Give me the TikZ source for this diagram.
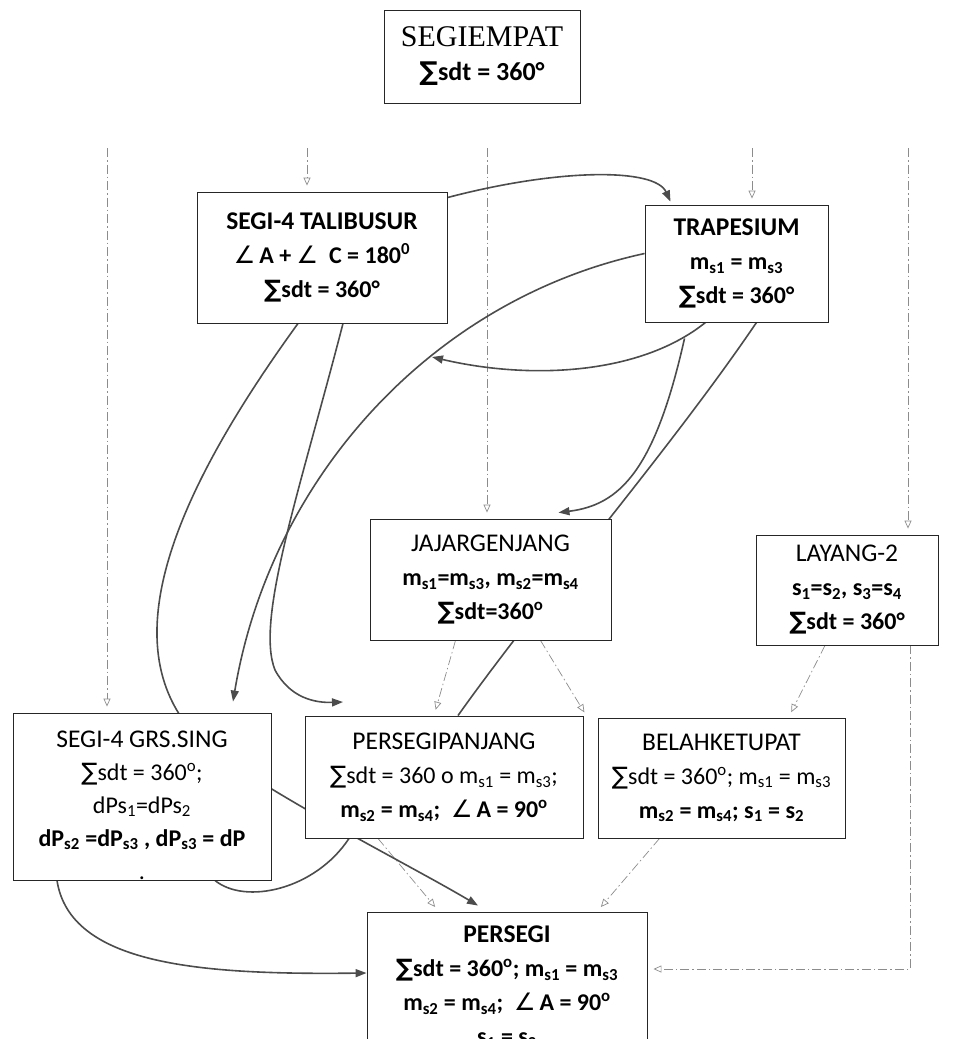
\documentclass[tikz,border=0pt]{standalone}
\usepackage{fontspec}
\setmainfont{Carlito}
\newfontfamily\serifA{Liberation Serif}
\newfontfamily\dv{DejaVu Sans}
\usetikzlibrary{arrows.meta,calc}
\pgfdeclarelayer{bg}
\pgfsetlayers{bg,main}
\newcommand\Sg{{\dv\char"2211}}
\newcommand\Ang{{\dv\mdseries\char"2220}}
\newcommand\sbs[1]{\textsubscript{#1}}
\newcommand\sps[1]{\textsuperscript{#1}}
\newcommand\ttl[1]{{\fontsize{25.5}{34}\selectfont #1}}
\tikzset{
  box/.style={draw=black!85, line width=0.9pt, fill=white, align=center, inner sep=0pt,
    font=\fontsize{24}{34}\selectfont},
  boldbox/.style={box, font=\fontsize{24}{34}\selectfont\bfseries},
  txt/.style={align=center, inner sep=0pt, font=\fontsize{24}{33}\selectfont},
  dsh/.style={draw=black!45, line width=0.7pt, dash pattern=on 9pt off 3pt on 1.5pt off 3pt,
    -{Triangle[open,length=8pt,width=7pt]}, shorten >=6pt},
  sol/.style={draw=black!70, line width=1.6pt, -{Triangle[length=11pt,width=8pt]}},
  solnt/.style={draw=black!70, line width=1.6pt},
}
\begin{document}
\begin{tikzpicture}[x=1pt,y=-1pt]
\useasboundingbox (0,0) rectangle (966,1039);
\clip (0,0) rectangle (966,1039);
\node[box, minimum width=196pt, minimum height=93pt] (seg) at (482,56.5)
  {{\serifA\fontsize{30}{37}\selectfont SEGIEMPAT}\\{\bfseries\fontsize{26}{32}\selectfont\Sg sdt = 360°}};
\node[boldbox, minimum width=250pt, minimum height=131pt] (tal) at (322,257.5)
  {\ttl{SEGI-4 TALIBUSUR}\\\Ang\,A + \Ang\ \ C = 180\sps{0}\\\Sg sdt = 360°};
\node[boldbox, minimum width=183pt, minimum height=117pt] (tra) at (736.5,263.5)
  {\ttl{TRAPESIUM}\\m\sbs{s1} = m\sbs{s3}\\\Sg sdt = 360°};
\node[box, minimum width=241pt, minimum height=121pt] (jaj) at (490.5,579.5)
  {\ttl{JAJARGENJANG}\\{\bfseries m\sbs{s1}=m\sbs{s3}, m\sbs{s2}=m\sbs{s4}}\\{\bfseries\Sg sdt=360\sps{o}}};
\node[box, minimum width=182pt, minimum height=110pt] (lay) at (847,590)
  {\ttl{LAYANG-2}\\{\bfseries s\sbs{1}=s\sbs{2}, s\sbs{3}=s\sbs{4}}\\{\bfseries\Sg sdt = 360°}};
\node[box, minimum width=258pt, minimum height=167pt] (grs) at (142,796.5) {};
\node[txt] (grst) at (142,805)
  {\ttl{SEGI-4 GRS.SING}\\\Sg sdt = 360\sps{o};\\dPs\sbs{1}=dPs\sbs{2}\\{\bfseries dP\sbs{s2} =dP\sbs{s3} , dP\sbs{s3} = dP}\\.};
\node[box, minimum width=278pt, minimum height=122pt] (pp) at (444,777)
  {\ttl{PERSEGIPANJANG}\\\Sg sdt = 360 o m\sbs{s1} = m\sbs{s3};\\{\bfseries m\sbs{s2} = m\sbs{s4};\ \ \Ang\,A = 90\sps{o}}};
\node[box, minimum width=247pt, minimum height=120pt] (bk) at (721.5,778)
  {\ttl{BELAHKETUPAT}\\\Sg sdt = 360\sps{o}; m\sbs{s1} = m\sbs{s3}\\{\bfseries m\sbs{s2} = m\sbs{s4}; s\sbs{1} = s\sbs{2}}};
\node[boldbox, minimum width=280pt, minimum height=150pt] (per) at (507,987)
  {\ttl{PERSEGI}\\\Sg sdt = 360\sps{o}; m\sbs{s1} = m\sbs{s3}\\m\sbs{s2} = m\sbs{s4};\ \ \Ang\,A = 90\sps{o}\\s\sbs{1} = s\sbs{2}};
\coordinate (d1) at (107,148);
\coordinate (d2) at (307,148);
\coordinate (d3) at (487,148);
\coordinate (d4) at (752,148);
\coordinate (d5) at (908,148);
\coordinate (gEnd) at (432,357);
\coordinate (dEnd) at (343,702);
\begin{pgfonlayer}{bg}
\draw[dsh] (d1) -- (d1 |- grs.north);
\draw[dsh] (d2) -- (d2 |- tal.north);
\draw[dsh] (d3) -- (d3 |- jaj.north);
\draw[dsh] (d4) -- (d4 |- tra.north);
\draw[dsh] (d5) -- (d5 |- lay.north);
\draw[dsh] ([xshift=-35pt]jaj.south) -- ([xshift=-10pt]pp.north);
\draw[dsh] ([xshift=50pt]jaj.south) -- ([xshift=-134pt]bk.north);
\draw[dsh] ([xshift=-22pt]lay.south) -- ([xshift=67pt]bk.north);
\draw[dsh] ([xshift=63pt]lay.south) |- ([yshift=18pt]per.east);
\draw[dsh] ([xshift=-66pt]pp.south) -- ([xshift=-68pt]per.north);
\draw[dsh] ([xshift=-62pt]bk.south) -- ([xshift=90pt]per.north);
% solid
\draw[sol] ([yshift=-6pt]tal.north east) .. controls (560,168) and (655,168) .. ([xshift=-66pt,yshift=3pt]tra.north);
\draw[sol] ([yshift=10pt]tra.west) .. controls (430,300) and (270,480) .. ([xshift=91pt,yshift=11pt]grs.north);
\draw[sol] ([xshift=-31pt]tra.south) .. controls (640,375) and (530,380) .. (gEnd);
\draw[sol] ([xshift=-52pt,yshift=-16pt]tra.south) .. controls (655,470) and (620,505) .. ([xshift=68pt,yshift=6pt]jaj.north);
\draw[solnt] ([xshift=20pt]tra.south) .. controls (670,450) and (540,600) .. ([xshift=14pt]pp.north);
\draw[sol] ([xshift=-24pt]tal.south) .. controls (170,500) and (110,650) .. (200,740) .. controls (260,790) and (410,865) .. ([xshift=-29pt,yshift=6pt]per.north);
\draw[sol] ([xshift=21pt]tal.south) .. controls (300,490) and (255,620) .. (275,670) .. controls (290,698) and (315,703) .. (dEnd);
\draw[solnt] ([xshift=73pt]grs.south) .. controls (245,905) and (315,890) .. ([xshift=-95pt]pp.south);
\draw[sol] ([xshift=-85pt]grs.south) .. controls (70,965) and (200,975) .. ([yshift=14pt]per.west);
\end{pgfonlayer}
\end{tikzpicture}
\end{document}
